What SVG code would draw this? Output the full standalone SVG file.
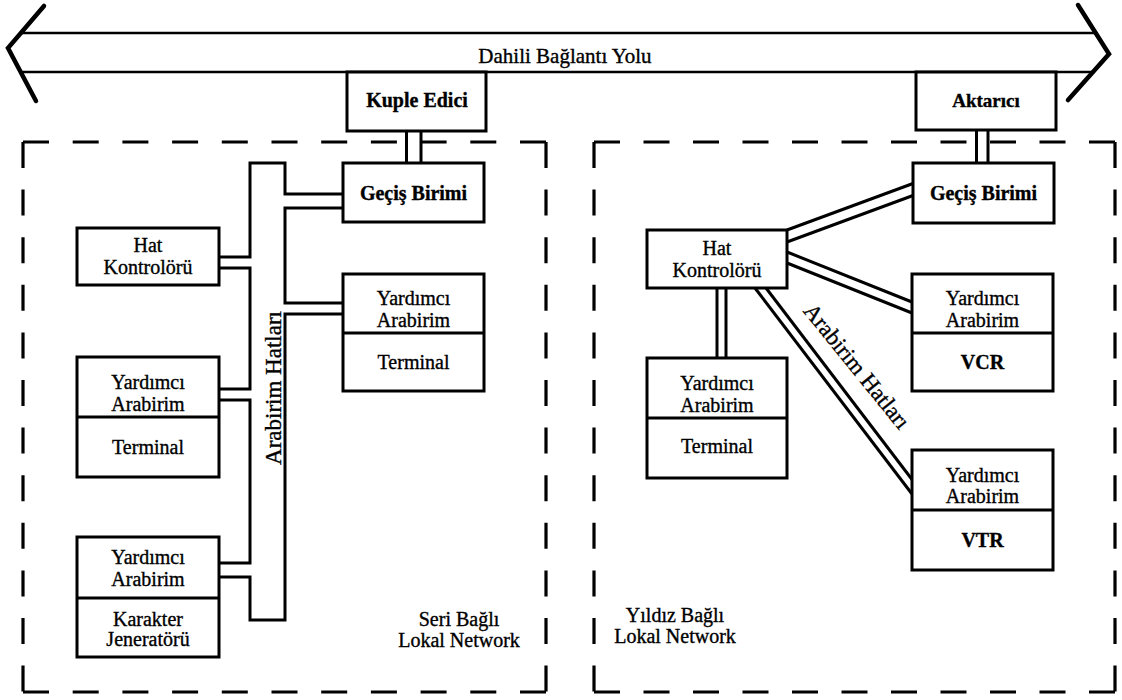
<svg xmlns="http://www.w3.org/2000/svg" width="1122" height="700" viewBox="0 0 1122 700" font-family="'Liberation Serif', 'Times New Roman', serif">
<style>
.box{fill:#fff;stroke:#000;stroke-width:3}
.ln{fill:none;stroke:#000;stroke-width:3;stroke-linejoin:miter}
.bus{fill:none;stroke:#000;stroke-width:2.6}
.chev{fill:none;stroke:#000;stroke-width:4.5;stroke-linecap:round;stroke-linejoin:miter}
.dh{fill:none;stroke:#000;stroke-width:3.2;stroke-dasharray:26 23.7}
.dh2{fill:none;stroke:#000;stroke-width:3.2;stroke-dasharray:26 23.5}
.dv{fill:none;stroke:#000;stroke-width:3.2;stroke-dasharray:26 21.6}
text{font-family:'Liberation Serif','Times New Roman',serif;fill:#000;text-anchor:middle;stroke:#000;stroke-width:0.35}
.t{font-size:20px}
.b{font-weight:bold}
.lbl{font-size:23px}
.bt{font-size:21px}
</style>
<rect width="1122" height="700" fill="#fff"/>

<g id="bus">
<line class="bus" x1="22" y1="33" x2="1094" y2="33"/>
<line class="bus" x1="22" y1="72" x2="1094" y2="72"/>
<polyline class="chev" points="44,6 8,48 36,101"/>
<polyline class="chev" points="1078,5 1109,54 1068,100"/>
<text class="bt" x="565" y="63">Dahili Bağlantı Yolu</text>
</g>

<g id="seri-network">
<line class="dh" x1="23" y1="142" x2="546" y2="142"/>
<line class="dh" x1="23" y1="692" x2="546" y2="692"/>
<line class="dv" x1="23" y1="142" x2="23" y2="692"/>
<line class="dv" x1="546" y1="142" x2="546" y2="692"/>
<text class="t" x="459" y="626">Seri Bağlı</text>
<text class="t" x="459" y="647">Lokal Network</text>
</g>

<g id="yildiz-network">
<line class="dh2" x1="594" y1="142" x2="1115" y2="142"/>
<line class="dh2" x1="594" y1="692" x2="1115" y2="692"/>
<line class="dv" x1="594" y1="142" x2="594" y2="692"/>
<line class="dv" x1="1115" y1="142" x2="1115" y2="692"/>
<text class="t" x="675" y="622">Yıldız Bağlı</text>
<text class="t" x="675" y="643">Lokal Network</text>
</g>

<g id="connectors">
<line class="ln" x1="406.5" y1="131" x2="406.5" y2="163"/>
<line class="ln" x1="421" y1="131" x2="421" y2="163"/>
<line class="ln" x1="976.5" y1="130" x2="976.5" y2="163"/>
<line class="ln" x1="988" y1="130" x2="988" y2="163"/>
<path class="ln" d="M219,257 H250 V163 H285 V194 H343 M343,208 H285 V303 H343 M343,314 H285 V620 H250 V577 H219 M219,563 H250 V400 H219 M219,389 H250 V268 H219"/>
<text class="lbl" transform="translate(281,388) rotate(-90)">Arabirim Hatları</text>
<line class="ln" x1="787" y1="230" x2="913" y2="183.5"/>
<line class="ln" x1="787" y1="242" x2="913" y2="195.5"/>
<line class="ln" x1="787" y1="252" x2="912" y2="302"/>
<line class="ln" x1="787" y1="263" x2="912" y2="313"/>
<line class="ln" x1="755" y1="288" x2="912" y2="494"/>
<line class="ln" x1="766" y1="288" x2="912" y2="479.5"/>
<line class="ln" x1="717" y1="288" x2="717" y2="358"/>
<line class="ln" x1="726" y1="288" x2="726" y2="358"/>
<text class="lbl" transform="translate(851,371) rotate(51)">Arabirim Hatları</text>
</g>

<g id="kuple-edici">
<rect class="box" x="347" y="72" width="139" height="59"/>
<text class="t b" x="417" y="107">Kuple Edici</text>
</g>

<g id="aktarici">
<rect class="box" x="916" y="72" width="140" height="58"/>
<text class="t b" x="986" y="107" style="font-size:19px">Aktarıcı</text>
</g>

<g id="gecis-birimi-1">
<rect class="box" x="343" y="163" width="141" height="59"/>
<text class="t b" x="413.5" y="200">Geçiş Birimi</text>
</g>

<g id="gecis-birimi-2">
<rect class="box" x="913" y="163" width="141" height="60"/>
<text class="t b" x="983.5" y="200">Geçiş Birimi</text>
</g>

<g id="hat-kontroloru-1">
<rect class="box" x="77" y="228" width="142" height="57"/>
<text class="t" x="148" y="252">Hat</text>
<text class="t" x="148" y="274">Kontrolörü</text>
</g>

<g id="hat-kontroloru-2">
<rect class="box" x="647" y="230" width="140" height="58"/>
<text class="t" x="717" y="255">Hat</text>
<text class="t" x="717" y="277">Kontrolörü</text>
</g>

<g id="terminal-1">
<rect class="box" x="343" y="274" width="141" height="117"/>
<line class="ln" x1="343" y1="333" x2="484" y2="333"/>
<text class="t" x="413.5" y="305">Yardımcı</text>
<text class="t" x="413.5" y="327">Arabirim</text>
<text class="t" x="413.5" y="369">Terminal</text>
</g>

<g id="terminal-2">
<rect class="box" x="77" y="357" width="142" height="120"/>
<line class="ln" x1="77" y1="417" x2="219" y2="417"/>
<text class="t" x="148" y="389">Yardımcı</text>
<text class="t" x="148" y="411">Arabirim</text>
<text class="t" x="148" y="454">Terminal</text>
</g>

<g id="karakter-jeneratoru">
<rect class="box" x="77" y="537" width="142" height="120"/>
<line class="ln" x1="77" y1="598" x2="219" y2="598"/>
<text class="t" x="148" y="564">Yardımcı</text>
<text class="t" x="148" y="586">Arabirim</text>
<text class="t" x="148" y="626">Karakter</text>
<text class="t" x="148" y="646">Jeneratörü</text>
</g>

<g id="terminal-3">
<rect class="box" x="647" y="358" width="140" height="120"/>
<line class="ln" x1="647" y1="418" x2="787" y2="418"/>
<text class="t" x="717" y="390">Yardımcı</text>
<text class="t" x="717" y="412">Arabirim</text>
<text class="t" x="717" y="453">Terminal</text>
</g>

<g id="vcr">
<rect class="box" x="912" y="274" width="141" height="117"/>
<line class="ln" x1="912" y1="333" x2="1053" y2="333"/>
<text class="t" x="982.5" y="305">Yardımcı</text>
<text class="t" x="982.5" y="327">Arabirim</text>
<text class="t b" x="982.5" y="369">VCR</text>
</g>

<g id="vtr">
<rect class="box" x="912" y="450" width="141" height="120"/>
<line class="ln" x1="912" y1="510" x2="1053" y2="510"/>
<text class="t" x="982.5" y="482">Yardımcı</text>
<text class="t" x="982.5" y="503">Arabirim</text>
<text class="t b" x="982.5" y="547">VTR</text>
</g>
</svg>
